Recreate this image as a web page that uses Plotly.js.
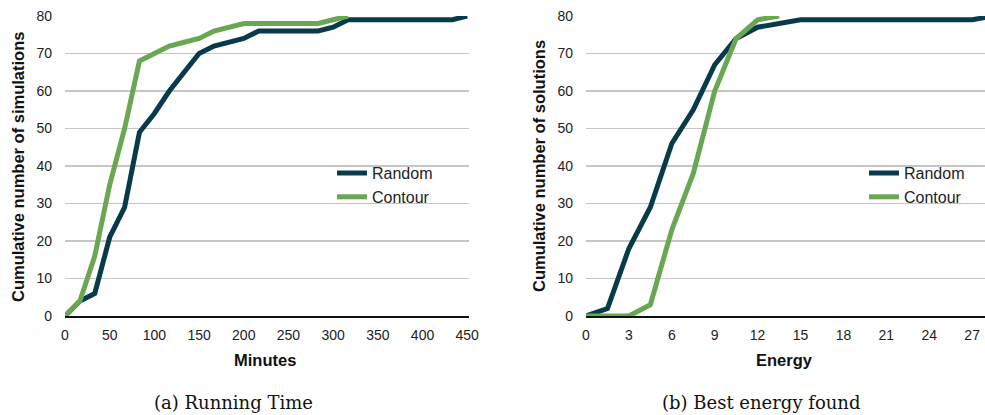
<!DOCTYPE html>
<html>
<head>
<meta charset="utf-8">
<script src="https://cdn.plot.ly/plotly-3.0.1.min.js"></script>
<style>html,body{margin:0;padding:0;background:#fff;}#chart{width:985px;height:415px;}</style>
</head>
<body>
<div id="chart"></div>
<script>
// ---- Data: (a) Running Time ----
var minutesRandom = [0, 16.7, 33.3, 50, 66.7, 83.3, 100, 116.7, 133.3, 150, 166.7, 183.3, 200, 216.7, 233.3, 250, 266.7, 283.3, 300, 316.7, 333.3, 350, 366.7, 383.3, 400, 416.7, 433.3, 450];
var runRandom = [0, 4, 6, 21, 29, 49, 54, 60, 65, 70, 72, 73, 74, 76, 76, 76, 76, 76, 77, 79, 79, 79, 79, 79, 79, 79, 79, 80];
var minutesContour = [0, 16.7, 33.3, 50, 66.7, 83.3, 100, 116.7, 133.3, 150, 166.7, 183.3, 200, 216.7, 233.3, 250, 266.7, 283.3, 300, 316.7];
var runContour = [0, 4, 16, 35, 50, 68, 70, 72, 73, 74, 76, 77, 78, 78, 78, 78, 78, 78, 79, 80];

// ---- Data: (b) Best energy found ----
var energyRandom = [0, 1.5, 3, 4.5, 6, 7.5, 9, 10.5, 12, 13.5, 15, 16.5, 18, 19.5, 21, 22.5, 24, 25.5, 27, 28.5];
var solRandom = [0, 2, 18, 29, 46, 55, 67, 74, 77, 78, 79, 79, 79, 79, 79, 79, 79, 79, 79, 80];
var energyContour = [0, 1.5, 3, 4.5, 6, 7.5, 9, 10.5, 12, 13.5];
var solContour = [0, 0, 0, 3, 23, 38, 60, 74, 79, 80];

var seriesNames = ["Random", "Contour"];
var xTitles = ["Minutes", "Energy"];
var yTitles = ["Cumulative number of simulations", "Cumulative number of solutions"];
var captions = ["(a) Running Time", "(b) Best energy found"];
var yTicks = [0, 10, 20, 30, 40, 50, 60, 70, 80];
var xTicksA = [0, 50, 100, 150, 200, 250, 300, 350, 400, 450];
var xTicksB = [0, 3, 6, 9, 12, 15, 18, 21, 24, 27];

var DARK = "#073b4c", GREEN = "#6aa753";
var sans = "Liberation Sans, Arial, Helvetica, sans-serif";

function line(x, y, name, color, xa, ya, legend) {
  return {x: x, y: y, name: name, type: "scatter", mode: "lines",
    line: {color: color, width: 5, shape: "linear"},
    xaxis: xa, yaxis: ya, legend: legend, hoverinfo: "skip"};
}

var data = [
  line(minutesRandom, runRandom, seriesNames[0], DARK, "x", "y", "legend"),
  line(minutesContour, runContour, seriesNames[1], GREEN, "x", "y", "legend"),
  line(energyRandom, solRandom, seriesNames[0], DARK, "x2", "y2", "legend2"),
  line(energyContour, solContour, seriesNames[1], GREEN, "x2", "y2", "legend2")
];

function yax(anchor) {
  return {anchor: anchor, range: [0, 80], tickvals: yTicks, showgrid: true, gridcolor: "#c6c6c6", gridwidth: 1.3,
    zeroline: false, showline: false, ticks: "", ticklabelstandoff: 12,
    tickfont: {family: sans, size: 14, color: "#222"}, fixedrange: true};
}
function xax(anchor, domain, range, ticks) {
  return {anchor: anchor, domain: domain, range: range, tickvals: ticks, showgrid: false, zeroline: false,
    showline: true, linecolor: "#111", linewidth: 1.5, ticks: "", ticklabelstandoff: 6,
    tickfont: {family: sans, size: 14, color: "#222"}, fixedrange: true};
}

var legendStyle = {font: {family: sans, size: 16, color: "#222"}, bgcolor: "rgba(0,0,0,0)",
  xanchor: "left", yanchor: "top", tracegroupgap: 0, itemclick: false, itemdoubleclick: false};

function ann(text, px, py, size, family, angle) {
  return {text: text, xref: "paper", yref: "paper", x: px/985, y: (316-py)/300,
    xanchor: "center", yanchor: "middle", textangle: angle || 0, showarrow: false,
    font: {family: family, size: size, color: "#111"}};
}

var layout = {
  width: 985, height: 415,
  margin: {l: 0, r: 0, t: 16, b: 99, pad: 0},
  paper_bgcolor: "#fff", plot_bgcolor: "#fff",
  showlegend: true,
  xaxis: xax("y", [65/985, 469/985], [0, 452], xTicksA),
  yaxis: yax("x"),
  xaxis2: xax("y2", [586/985, 1], [0, 27.9], xTicksB),
  yaxis2: yax("x2"),
  legend: Object.assign({x: 332/985, y: 0.533}, legendStyle),
  legend2: Object.assign({x: 864/985, y: 0.533}, legendStyle),
  annotations: [
    ann("<b>" + xTitles[0] + "</b>", 265, 360, 16.5, sans),
    ann("<b>" + xTitles[1] + "</b>", 784, 360, 16.5, sans),
    ann("<b>" + yTitles[0] + "</b>", 18, 167, 16.5, sans, -90),
    ann("<b>" + yTitles[1] + "</b>", 539, 166, 16.5, sans, -90),
    ann(captions[0], 233, 402, 18, "DejaVu Serif, serif"),
    ann(captions[1], 761, 402, 18, "DejaVu Serif, serif")
  ]
};

Plotly.newPlot("chart", data, layout, {staticPlot: true, displayModeBar: false});
</script>
</body>
</html>
